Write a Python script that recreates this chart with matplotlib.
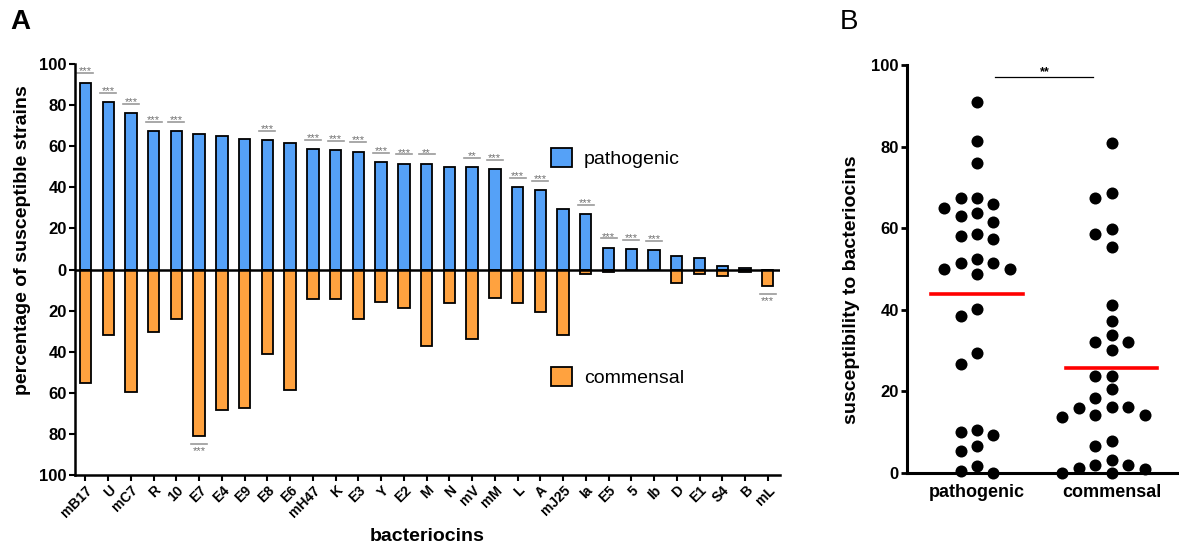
import matplotlib
matplotlib.use("Agg")
import matplotlib.pyplot as plt
from matplotlib.patches import Patch
import numpy as np

plt.rcParams['font.family'] = ['Liberation Sans', 'DejaVu Sans']

# bacteriocin panel (percent of susceptible strains)
bacteriocins = ['mB17', 'U', 'mC7', 'R', '10', 'E7', 'E4', 'E9', 'E8', 'E6', 'mH47',
                'K', 'E3', 'Y', 'E2', 'M', 'N', 'mV', 'mM', 'L', 'A', 'mJ25',
                'Ia', 'E5', '5', 'Ib', 'D', 'E1', 'S4', 'B', 'mL']
pathogenic = [91.0, 81.3, 76.0, 67.3, 67.3, 66.0, 65.0, 63.7, 63.0, 61.5, 58.5,
              58.2, 57.4, 52.4, 51.5, 51.5, 49.9, 49.9, 48.8, 40.2, 38.5, 29.3,
              26.8, 10.6, 10.1, 9.4, 6.5, 5.4, 1.6, 0.5, 0.0]
commensal = [55.3, 32.0, 59.7, 30.2, 23.9, 81.0, 68.6, 67.3, 41.1, 58.5, 14.3,
             14.3, 23.9, 15.9, 18.5, 37.2, 16.3, 33.8, 13.8, 16.3, 20.6, 32.0,
             2.0, 1.3, 0.0, 0.0, 6.7, 2.0, 3.1, 1.0, 7.8]
sig_path = ['***', '***', '***', '***', '***', '', '', '', '***', '', '***',
            '***', '***', '***', '***', '**', '', '**', '***', '***', '***', '',
            '***', '***', '***', '***', '', '', '', '', '']
sig_comm = ['', '', '', '', '', '***', '', '', '', '', '',
            '', '', '', '', '', '', '', '', '', '', '',
            '', '', '', '', '', '', '', '', '***']
groups = ['pathogenic', 'commensal']

blue = '#55A1F7'
orange = '#FFA23F'

fig = plt.figure(figsize=(11.79, 5.49), dpi=100)

# ---- A: mirrored bar chart
axA = fig.add_axes([0.0636, 0.1348, 0.598, 0.7486])
x = np.arange(len(bacteriocins))
axA.bar(x, pathogenic, width=0.5, color=blue, edgecolor='black', linewidth=1.3)
axA.bar(x, -np.array(commensal), width=0.5, color=orange, edgecolor='black', linewidth=1.3)
axA.axhline(0, color='black', lw=1.8, zorder=3)

for i, s in enumerate(sig_path):
    if s:
        y0 = pathogenic[i] + 4.5
        axA.plot([i - 0.35, i + 0.35], [y0, y0], color='#9a9a9a', lw=1.2, clip_on=False)
        axA.text(i, y0 - 0.6, s, ha='center', va='baseline', fontsize=8,
                 color='#707070', clip_on=False)
for i, s in enumerate(sig_comm):
    if s:
        y0 = -commensal[i] - 4.0
        axA.plot([i - 0.35, i + 0.35], [y0, y0], color='#9a9a9a', lw=1.2, clip_on=False)
        axA.text(i, y0 - 5.0, s, ha='center', va='baseline', fontsize=8,
                 color='#707070', clip_on=False)

axA.set_xlim(-0.46, 30.54)
axA.set_ylim(-100, 100)
yt = np.arange(-100, 101, 20)
axA.set_yticks(yt)
axA.set_yticklabels([str(abs(v)) for v in yt], fontweight='bold', fontsize=12)
axA.set_xticks(x)
axA.set_xticklabels(bacteriocins, rotation=45, ha='right', rotation_mode='anchor',
                    fontweight='bold', fontsize=10)
axA.tick_params(direction='out', length=4, width=1.5, pad=2)
for side in ['top', 'right']:
    axA.spines[side].set_visible(False)
for side in ['left', 'bottom']:
    axA.spines[side].set_linewidth(1.8)
axA.set_ylabel('percentage of susceptible strains', fontweight='bold', fontsize=14)
axA.yaxis.set_label_coords(-0.062, 0.572)
axA.set_xlabel('bacteriocins', fontweight='bold', fontsize=14, labelpad=6)

leg1 = axA.legend(handles=[Patch(facecolor=blue, edgecolor='black', lw=1.3, label='pathogenic')],
                  loc='center left', bbox_to_anchor=(0.675, 0.771), frameon=False,
                  fontsize=14, handlelength=1.1, handleheight=1.1, handletextpad=0.6,
                  borderpad=0, borderaxespad=0)
axA.add_artist(leg1)
axA.legend(handles=[Patch(facecolor=orange, edgecolor='black', lw=1.3, label='commensal')],
           loc='center left', bbox_to_anchor=(0.675, 0.238), frameon=False,
           fontsize=14, handlelength=1.1, handleheight=1.1, handletextpad=0.6,
           borderpad=0, borderaxespad=0)

# ---- B: scatter of the same values per group
axB = fig.add_axes([0.7693, 0.1384, 0.2307, 0.7432])
axB.set_xlim(-0.52, 1.5)
axB.set_ylim(0, 100)

px_x = axB.bbox.width / 2.02
px_y = axB.bbox.height / 100.0
dot_px = 12.0


def swarm_offsets(vals):
    vals = np.asarray(vals)
    step = dot_px * 1.37
    cands = [0.0]
    for k in range(1, 7):
        cands += [-k * step, k * step]
    placed = []
    offs = np.zeros(len(vals))
    for i in np.argsort(-vals, kind='stable'):
        y = vals[i] * px_y
        for c in cands:
            if all((c - px) ** 2 + (y - py) ** 2 >= dot_px ** 2 for px, py in placed):
                break
        placed.append((c, y))
        offs[i] = c / px_x
    return offs


for g, vals in enumerate([pathogenic, commensal]):
    xs = g + swarm_offsets(vals)
    axB.scatter(xs, vals, s=75, color='black', linewidths=0, clip_on=False, zorder=3)
    m = np.mean(vals)
    axB.plot([g - 0.34, g + 0.34], [m, m], color='red', lw=2.6, zorder=4)

axB.plot([0.133, 0.86], [97.1, 97.1], color='black', lw=0.9, clip_on=False)
axB.text(0.5, 97.6, '**', ha='center', va='baseline', fontsize=9, fontweight='bold',
         clip_on=False)

axB.set_xticks([0, 1])
axB.set_xticklabels(groups, fontweight='bold', fontsize=13)
axB.tick_params(axis='x', length=0, pad=8)
axB.set_yticks(np.arange(0, 101, 20))
axB.set_yticklabels([str(v) for v in range(0, 101, 20)], fontweight='bold', fontsize=12)
axB.tick_params(axis='y', direction='out', length=4, width=2, pad=2)
for side in ['top', 'right']:
    axB.spines[side].set_visible(False)
for side in ['left', 'bottom']:
    axB.spines[side].set_linewidth(2.2)
axB.set_ylabel('susceptibility to bacteriocins', fontweight='bold', fontsize=14)
axB.yaxis.set_label_coords(-0.173, 0.449)

fig.text(0.0085, 0.96, 'A', fontsize=20, fontweight='bold', va='center', ha='left')
fig.text(0.712, 0.96, 'B', fontsize=20, va='center', ha='left')

fig.savefig('out.png', dpi=100)
